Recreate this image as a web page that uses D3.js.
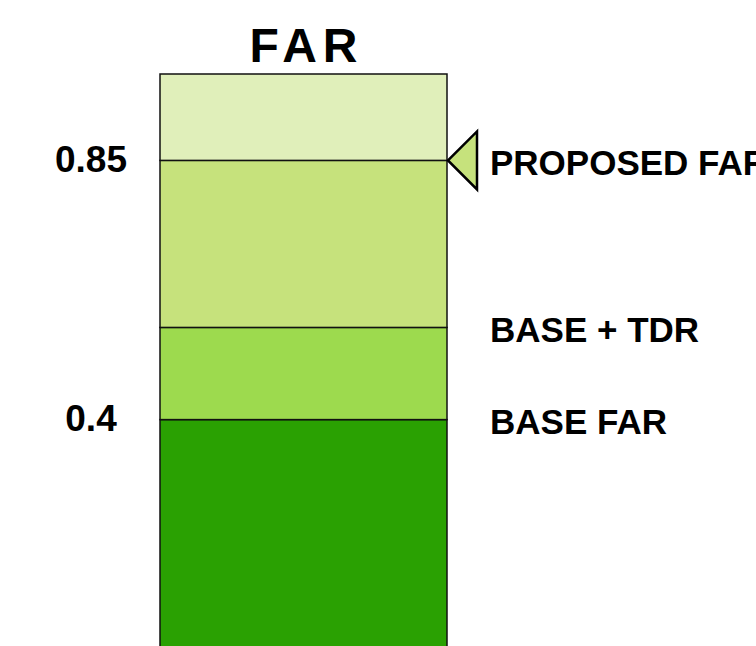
<!DOCTYPE html>
<html>
<head>
<meta charset="utf-8">
<script src="https://cdn.jsdelivr.net/npm/d3@7"></script>
<style>
  body { margin: 0; background: #fff; }
  text { font-family: "Liberation Sans", Arial, sans-serif; font-weight: bold; fill: #000; }
</style>
</head>
<body>
<svg width="756" height="646"></svg>
<script>
// stacked FAR bar, bottom to top
var segments = ["Base FAR", "TDR", "Proposed", "Remaining"];
var segmentValues = [0.4, 0.16, 0.29, 0.15];
var segmentColors = ["#2aa102", "#9dda4e", "#c6e27c", "#e0efba"];

var tickValues = [0.4, 0.85];
var tickLabels = ["0.4", "0.85"];

var labelTexts = ["BASE FAR", "BASE + TDR", "PROPOSED FAR"];
var labelValues = [0.4, 0.56, 0.85];

var markerValue = 0.85;
var title = "FAR";

var svg = d3.select("svg"),
    barLeft = 160,
    barRight = 447;

var y = d3.scaleLinear()
    .domain([0, 1])
    .range([650, 74]);

var row = {};
segments.forEach(function(s, i) { row[s] = segmentValues[i]; });
var stacked = d3.stack().keys(segments)([row]);

svg.append("g")
    .selectAll("rect")
    .data(stacked)
    .enter()
    .append("rect")
        .attr("x", barLeft)
        .attr("width", barRight - barLeft)
        .attr("y", function(d) { return y(d[0][1]); })
        .attr("height", function(d) { return y(d[0][0]) - y(d[0][1]); })
        .attr("fill", function(d, i) { return segmentColors[i]; })
        .attr("stroke", "#111")
        .attr("stroke-width", 1.5);

// left value labels
var axis = svg.append("g")
    .attr("transform", "translate(91,0)")
    .call(d3.axisLeft(y)
        .tickValues(tickValues)
        .tickFormat(function(d, i) { return tickLabels[i]; })
        .tickSize(0)
        .tickPadding(0));
axis.select(".domain").remove();
axis.selectAll("text")
    .attr("text-anchor", "middle")
    .attr("dy", "0.3em")
    .style("font-family", "'Liberation Sans', Arial, sans-serif")
    .style("font-weight", "bold")
    .style("font-size", "37px")
    .attr("fill", "#000");

// right labels
svg.append("g")
    .selectAll("text")
    .data(labelTexts)
    .enter()
    .append("text")
        .attr("x", 490)
        .attr("y", function(d, i) { return y(labelValues[i]) + 2; })
        .attr("dy", "0.36em")
        .style("font-size", "35px")
        .text(function(d) { return d; });

// marker triangle
var my = y(markerValue);
svg.append("path")
    .attr("d", d3.line()([[barRight + 1, my], [477, my - 29], [477, my + 29]]) + "Z")
    .attr("fill", segmentColors[2])
    .attr("stroke", "#000")
    .attr("stroke-width", 2.5)
    .attr("stroke-linejoin", "miter");

svg.append("text")
    .attr("x", (barLeft + barRight) / 2 + 3)
    .attr("y", 62)
    .attr("text-anchor", "middle")
    .style("font-size", "48px")
    .style("letter-spacing", "6px")
    .text(title);
</script>
</body>
</html>
